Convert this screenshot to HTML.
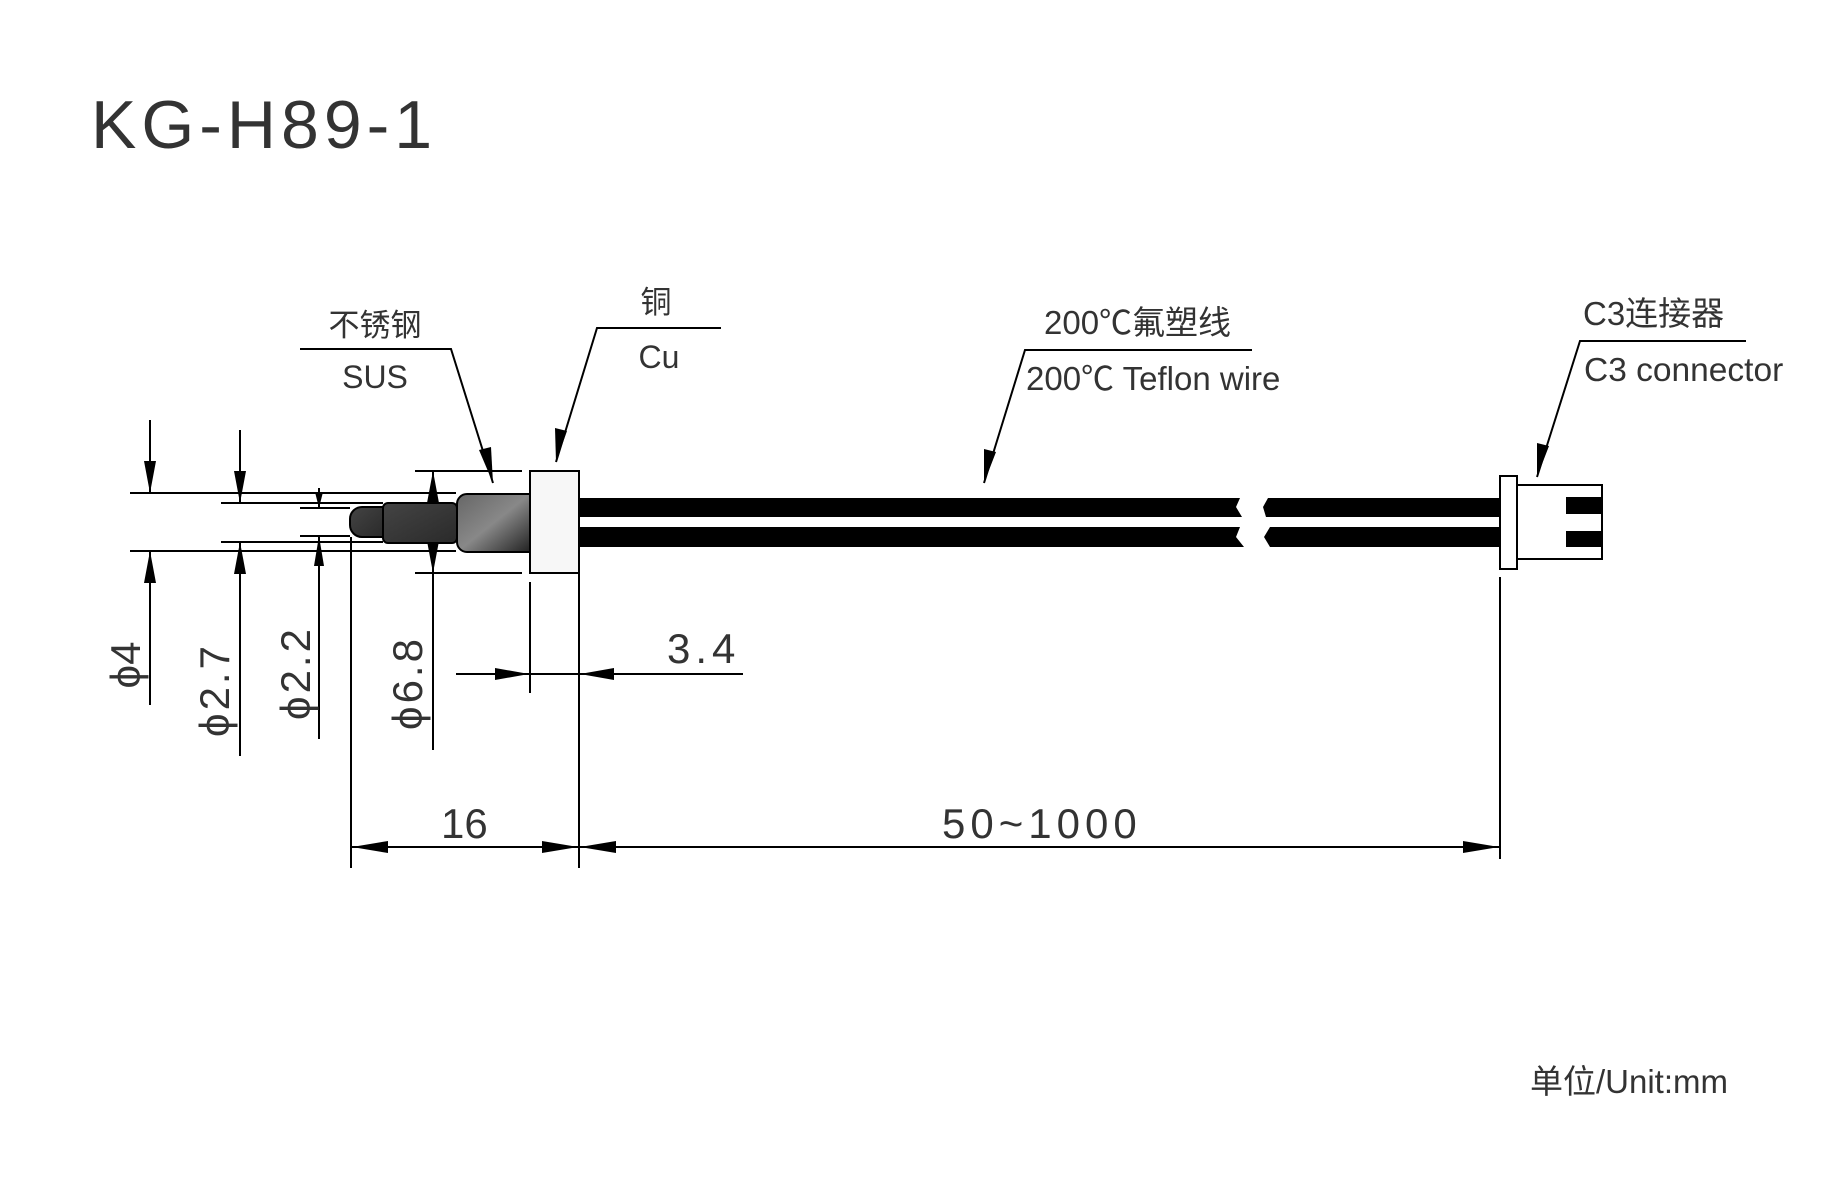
<!DOCTYPE html>
<html><head><meta charset="utf-8"><style>
html,body{margin:0;padding:0;background:#fff}
svg{display:block}
text{font-family:"Liberation Sans","Noto Sans CJK SC",sans-serif;fill:#333}
</style></head><body>
<svg width="1830" height="1193" viewBox="0 0 1830 1193" xmlns="http://www.w3.org/2000/svg">
<defs>
<linearGradient id="g1" x1="0" y1="0" x2="1" y2="1">
<stop offset="0" stop-color="#666"/><stop offset="0.5" stop-color="#888"/><stop offset="1" stop-color="#222"/>
</linearGradient>
<linearGradient id="g2" x1="0" y1="0" x2="1" y2="1">
<stop offset="0" stop-color="#444"/><stop offset="1" stop-color="#2a2a2a"/>
</linearGradient>
</defs>
<text x="91" y="148" font-size="68" letter-spacing="5" style="fill:#333">KG-H89-1</text>

<g stroke="#000" stroke-width="2" fill="none">
<line x1="130" y1="493" x2="456" y2="493"/><line x1="130" y1="551" x2="456" y2="551"/>
<line x1="150" y1="420" x2="150" y2="493"/><line x1="150" y1="551" x2="150" y2="705"/>
<line x1="221" y1="503" x2="383" y2="503"/><line x1="221" y1="542" x2="383" y2="542"/>
<line x1="240" y1="430" x2="240" y2="503"/><line x1="240" y1="542" x2="240" y2="756"/>
<line x1="300" y1="508" x2="350" y2="508"/><line x1="300" y1="536" x2="350" y2="536"/>
<line x1="319" y1="488" x2="319" y2="508"/><line x1="319" y1="536" x2="319" y2="739"/>
<line x1="415" y1="471" x2="522" y2="471"/><line x1="415" y1="573" x2="522" y2="573"/>
<line x1="433" y1="471" x2="433" y2="750"/>
<line x1="351" y1="537" x2="351" y2="868"/>
<line x1="530" y1="582" x2="530" y2="693"/>
<line x1="579" y1="573" x2="579" y2="868"/>
<line x1="1500" y1="577" x2="1500" y2="859"/>
<line x1="456" y1="674" x2="743" y2="674"/>
<line x1="351" y1="847" x2="1500" y2="847"/>
<polyline points="300,349 451,349 493,483"/>
<polyline points="721,328 597,328 556,462"/>
<polyline points="1252,350 1025,350 984,483"/>
<polyline points="1746,341 1580,341 1537,477"/>
</g>

<g fill="#000">
<polygon points="150,493 144,461 156,461"/><polygon points="150,551 144,583 156,583"/>
<polygon points="240,503 234,471 246,471"/><polygon points="240,542 234,574 246,574"/>
<polygon points="319,508 315,492 323,492"/><polygon points="319,536 314,566 324,566"/>
<polygon points="433,471 427,503 439,503"/><polygon points="433,573 427,541 439,541"/>
<polygon points="529,674 495,668 495,680"/><polygon points="580,674 614,668 614,680"/>
<polygon points="352,847 388,841 388,853"/><polygon points="578,847 542,841 542,853"/>
<polygon points="580,847 616,841 616,853"/><polygon points="1499,847 1463,841 1463,853"/>
<polygon points="493,483 479,450 491,447"/>
<polygon points="556,462 555,428 567,431"/>
<polygon points="984,483 984,449 996,452"/>
<polygon points="1537,477 1537,443 1549,446"/>
</g>

<path d="M362,507 H383 V537 H362 A12,12 0 0 1 350,525 V519 A12,12 0 0 1 362,507 Z" fill="url(#g2)" stroke="#000" stroke-width="2"/>
<rect x="383" y="503" width="74" height="40" rx="5" fill="url(#g2)" stroke="#000" stroke-width="2"/>
<path d="M467,494 H530 V552 H467 A10,10 0 0 1 457,542 V504 A10,10 0 0 1 467,494 Z" fill="url(#g1)" stroke="#000" stroke-width="2"/>
<rect x="530" y="471" width="49" height="102" fill="#f7f7f7" stroke="#000" stroke-width="2"/>

<path d="M580,498 H1240 L1236,507 L1242,517 H580 Z" fill="#000"/>
<path d="M580,527 H1240 L1236,537 L1244,547 H580 Z" fill="#000"/>
<path d="M1268,498 H1500 V517 H1266 L1263,507 Z" fill="#000"/>
<path d="M1270,527 H1500 V547 H1270 L1264,537 Z" fill="#000"/>

<rect x="1517" y="485" width="85" height="74" fill="#fff" stroke="#000" stroke-width="2"/>
<rect x="1566" y="497" width="36" height="17" fill="#000"/>
<rect x="1566" y="531" width="36" height="16" fill="#000"/>
<rect x="1500" y="476" width="17" height="93" fill="#fff" stroke="#000" stroke-width="2"/>

<g font-size="31" text-anchor="middle">
<text x="375" y="336">不锈钢</text>
<text x="375" y="388" font-size="32">SUS</text>
<text x="656" y="313">铜</text>
<text x="659" y="368" font-size="32">Cu</text>
</g>
<text x="1044" y="334" font-size="33">200℃氟塑线</text>
<text x="1026" y="390" font-size="33">200℃ Teflon wire</text>
<text x="1583" y="325" font-size="33">C3连接器</text>
<text x="1584" y="381" font-size="33.5">C3 connector</text>

<g font-size="42">
<text x="667" y="663" letter-spacing="5">3.4</text>
<text x="441" y="838">16</text>
<text x="942" y="838" letter-spacing="5">50~1000</text>
<text transform="translate(140,665) rotate(-90)" text-anchor="middle">ϕ4</text>
<text transform="translate(229,690) rotate(-90)" text-anchor="middle" letter-spacing="3">ϕ2.7</text>
<text transform="translate(310,673) rotate(-90)" text-anchor="middle" letter-spacing="3">ϕ2.2</text>
<text transform="translate(422,683) rotate(-90)" text-anchor="middle" letter-spacing="3">ϕ6.8</text>
</g>
<text x="1530" y="1093" font-size="33">单位/Unit:mm</text>
</svg>
</body></html>
